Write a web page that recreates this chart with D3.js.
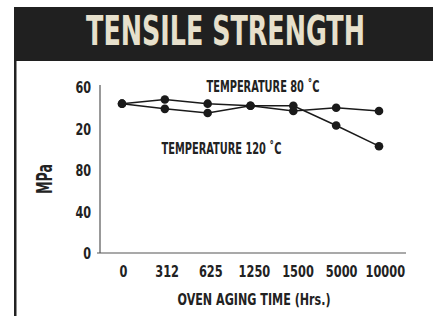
<!DOCTYPE html>
<html>
<head>
<meta charset="utf-8">
<title>Tensile strength</title>
<script src="https://cdn.jsdelivr.net/npm/d3@7"></script>
<style>
  body { margin: 0; background: #fff; }
  text { font-family: "DejaVu Sans Condensed", "DejaVu Sans", sans-serif; font-weight: bold; fill: #222; }
</style>
</head>
<body>
<script>
// data
var hours = ['0', '312', '625', '1250', '1500', '5000', '10000'];
var temp80 = [144, 148, 144, 142, 137, 140, 137];
var temp120 = [144, 139, 135, 142, 142, 123, 103];
var yTicks = [0, 40, 80, 120, 160];
var yTickLabels = ['0', '40', '80', '20', '60'];   // as printed on the chart

var W = 433, H = 316;
var svg = d3.select('body').append('svg')
  .attr('width', W)
  .attr('height', H);

// squeeze a text horizontally to a given width
function squeeze(sel, cx, cy, width) {
  var len = sel.node().getComputedTextLength();
  sel.attr('transform', 'translate(' + cx + ',' + cy + ') scale(' + (width / len) + ',1)');
}

// header bar
svg.append('rect').attr('x', 14).attr('y', 7).attr('width', W - 14).attr('height', 54).attr('fill', '#202020');
var title = svg.append('text')
  .attr('text-anchor', 'middle')
  .attr('font-size', 40)
  .style('fill', '#e7e0cc')
  .text('TENSILE STRENGTH');
squeeze(title, 225.5, 45, 279);
// left rule
svg.append('rect').attr('x', 14).attr('y', 61).attr('width', 2.5).attr('height', H - 61).attr('fill', '#222');

var x = d3.scalePoint().domain(hours).range([122, 379]);
var y = d3.scaleLinear().domain([0, 162]).range([253, 85]);

// axes
svg.append('line').attr('x1', 100).attr('x2', 100).attr('y1', y(162)).attr('y2', y(0))
  .attr('stroke', '#555').attr('stroke-width', 1.2);
svg.append('line').attr('x1', 97).attr('x2', 406).attr('y1', y(0)).attr('y2', y(0))
  .attr('stroke', '#555').attr('stroke-width', 1.2);

svg.selectAll('.ytick').data(yTicks).enter().append('text')
  .attr('class', 'ytick')
  .attr('x', 91).attr('y', function(d) { return y(d) + 6; })
  .attr('text-anchor', 'end')
  .attr('font-size', 16)
  .attr('textLength', function(d, i) { return yTickLabels[i].length * 7.8; })
  .attr('lengthAdjust', 'spacingAndGlyphs')
  .text(function(d, i) { return yTickLabels[i]; });

svg.selectAll('.xtick').data(hours).enter().append('text')
  .attr('class', 'xtick')
  .attr('x', function(d, i) { return x(d) + 1.5 + i * 0.8; })
  .attr('y', 277)
  .attr('text-anchor', 'middle')
  .attr('font-size', 16)
  .attr('textLength', function(d) { return d.length * 7.9; })
  .attr('lengthAdjust', 'spacingAndGlyphs')
  .text(function(d) { return d; });

svg.append('text')
  .attr('x', 254).attr('y', 305)
  .attr('text-anchor', 'middle')
  .attr('font-size', 16)
  .attr('textLength', 153).attr('lengthAdjust', 'spacingAndGlyphs')
  .text('OVEN AGING TIME (Hrs.)');

svg.append('text')
  .attr('transform', 'translate(51.5,179) rotate(-90)')
  .attr('text-anchor', 'middle')
  .attr('font-size', 22)
  .attr('textLength', 30).attr('lengthAdjust', 'spacingAndGlyphs')
  .text('MPa');

// series
var line = d3.line()
  .x(function(d, i) { return x(hours[i]); })
  .y(function(d) { return y(d); });

[temp80, temp120].forEach(function(s) {
  svg.append('path').datum(s)
    .attr('d', line)
    .attr('fill', 'none')
    .attr('stroke', '#1a1a1a')
    .attr('stroke-width', 1.5);
  svg.append('g').selectAll('circle').data(s).enter().append('circle')
    .attr('cx', function(d, i) { return x(hours[i]); })
    .attr('cy', function(d) { return y(d); })
    .attr('r', 4.3)
    .attr('fill', '#1a1a1a');
});

// labels
svg.append('text')
  .attr('x', 206.5).attr('y', 91.7)
  .attr('font-size', 16)
  .attr('textLength', 113).attr('lengthAdjust', 'spacingAndGlyphs')
  .text('TEMPERATURE 80 ˚C');
svg.append('text')
  .attr('x', 161.5).attr('y', 154)
  .attr('font-size', 16)
  .attr('textLength', 120).attr('lengthAdjust', 'spacingAndGlyphs')
  .text('TEMPERATURE 120 ˚C');
</script>
</body>
</html>
